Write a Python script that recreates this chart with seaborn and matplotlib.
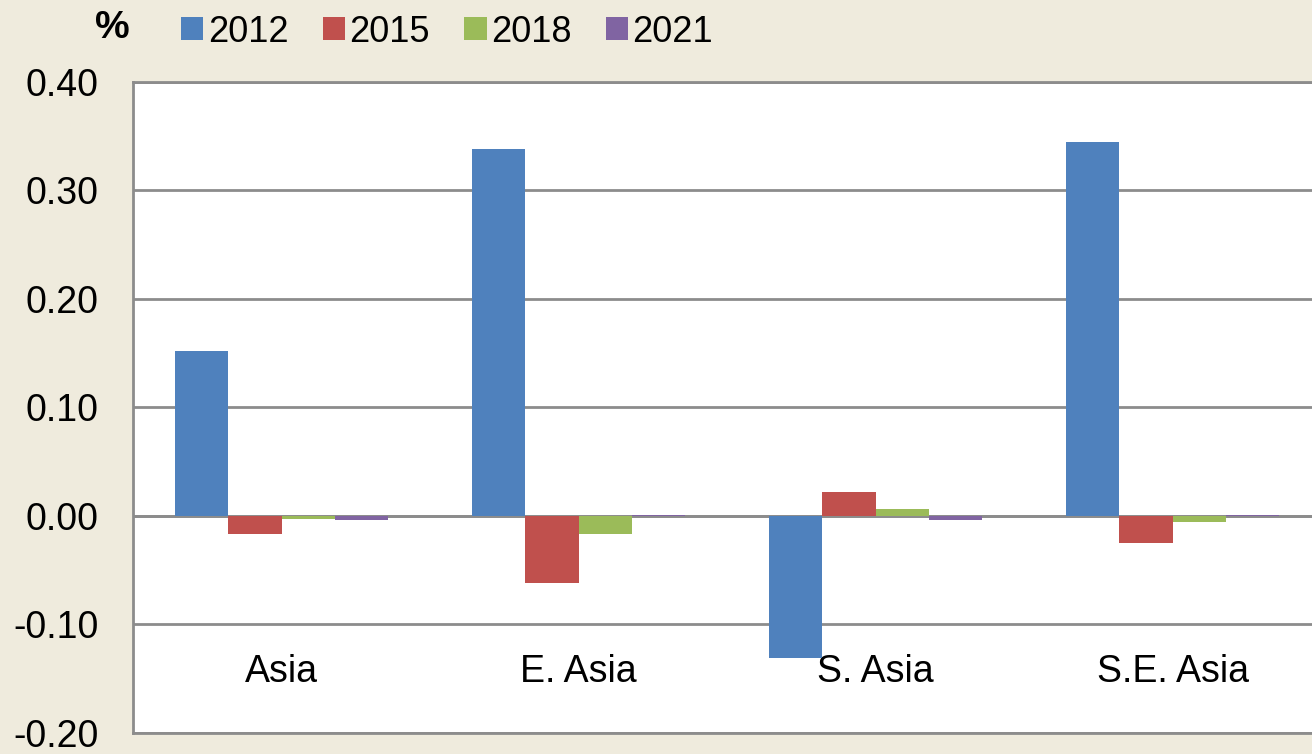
import pandas as pd
import seaborn as sns
import matplotlib.pyplot as plt
from matplotlib.patches import Patch

# regions and yearly changes (%)
regions = ['Asia', 'E. Asia', 'S. Asia', 'S.E. Asia']
years = ['2012', '2015', '2018', '2021']
v2012 = [0.152, 0.338, -0.131, 0.345]
v2015 = [-0.017, -0.062, 0.022, -0.025]
v2018 = [-0.003, -0.017, 0.006, -0.006]
v2021 = [-0.004, 0.001, -0.004, 0.001]
colors = ['#4F81BD', '#C0504D', '#9BBB59', '#8064A2']
yticks = [-0.20, -0.10, 0.00, 0.10, 0.20, 0.30, 0.40]

df = pd.DataFrame({
    'region': regions * 4,
    'year': [y for y in years for _ in regions],
    'value': v2012 + v2015 + v2018 + v2021,
})

sns.set_style('white')
plt.rcParams['font.family'] = ['Liberation Sans', 'DejaVu Sans']
plt.rcParams['text.color'] = 'black'
plt.rcParams['xtick.color'] = 'black'
plt.rcParams['ytick.color'] = 'black'

fig = plt.figure(figsize=(13.12, 7.54), dpi=100)
fig.patch.set_facecolor('#EFEBDD')
ax = fig.add_axes([0.1014, 0.0279, 0.9055, 0.8634])
ax.set_facecolor('white')

sns.barplot(data=df, x='region', y='value', hue='year', palette=colors,
            width=0.72, ax=ax, legend=False, saturation=1, linewidth=0)

ax.set_ylim(-0.20, 0.40)
ax.set_xlim(-0.5, 3.5)
ax.set_yticks(yticks)
ax.set_yticklabels([f'{t:.2f}' for t in yticks])
ax.yaxis.grid(True, color='#8C8C8C', linewidth=2)
ax.set_axisbelow(True)
ax.axhline(0, color='#8C8C8C', linewidth=2, zorder=0.5)
ax.set_xlabel('')
ax.set_ylabel('')
ax.tick_params(axis='y', length=0, labelsize=27, pad=25)
ax.tick_params(axis='x', length=0, labelsize=27, pad=-57)
for s in ['left', 'top', 'bottom']:
    ax.spines[s].set_color('#8C8C8C')
    ax.spines[s].set_linewidth(2)
ax.spines['right'].set_visible(False)

handles = [Patch(facecolor=c, edgecolor='none') for c in colors]
fig.legend(handles, years, loc='center', bbox_to_anchor=(447 / 1312, 1 - 32 / 754),
           ncol=4, frameon=False, fontsize=26, handlelength=0.62, handleheight=0.62,
           handletextpad=0.12, columnspacing=0.95)
fig.text(112 / 1312, 1 - 28 / 754, '%', fontsize=28, fontweight='heavy',
         ha='center', va='center')

fig.savefig('out.png', dpi=100, facecolor=fig.get_facecolor())
